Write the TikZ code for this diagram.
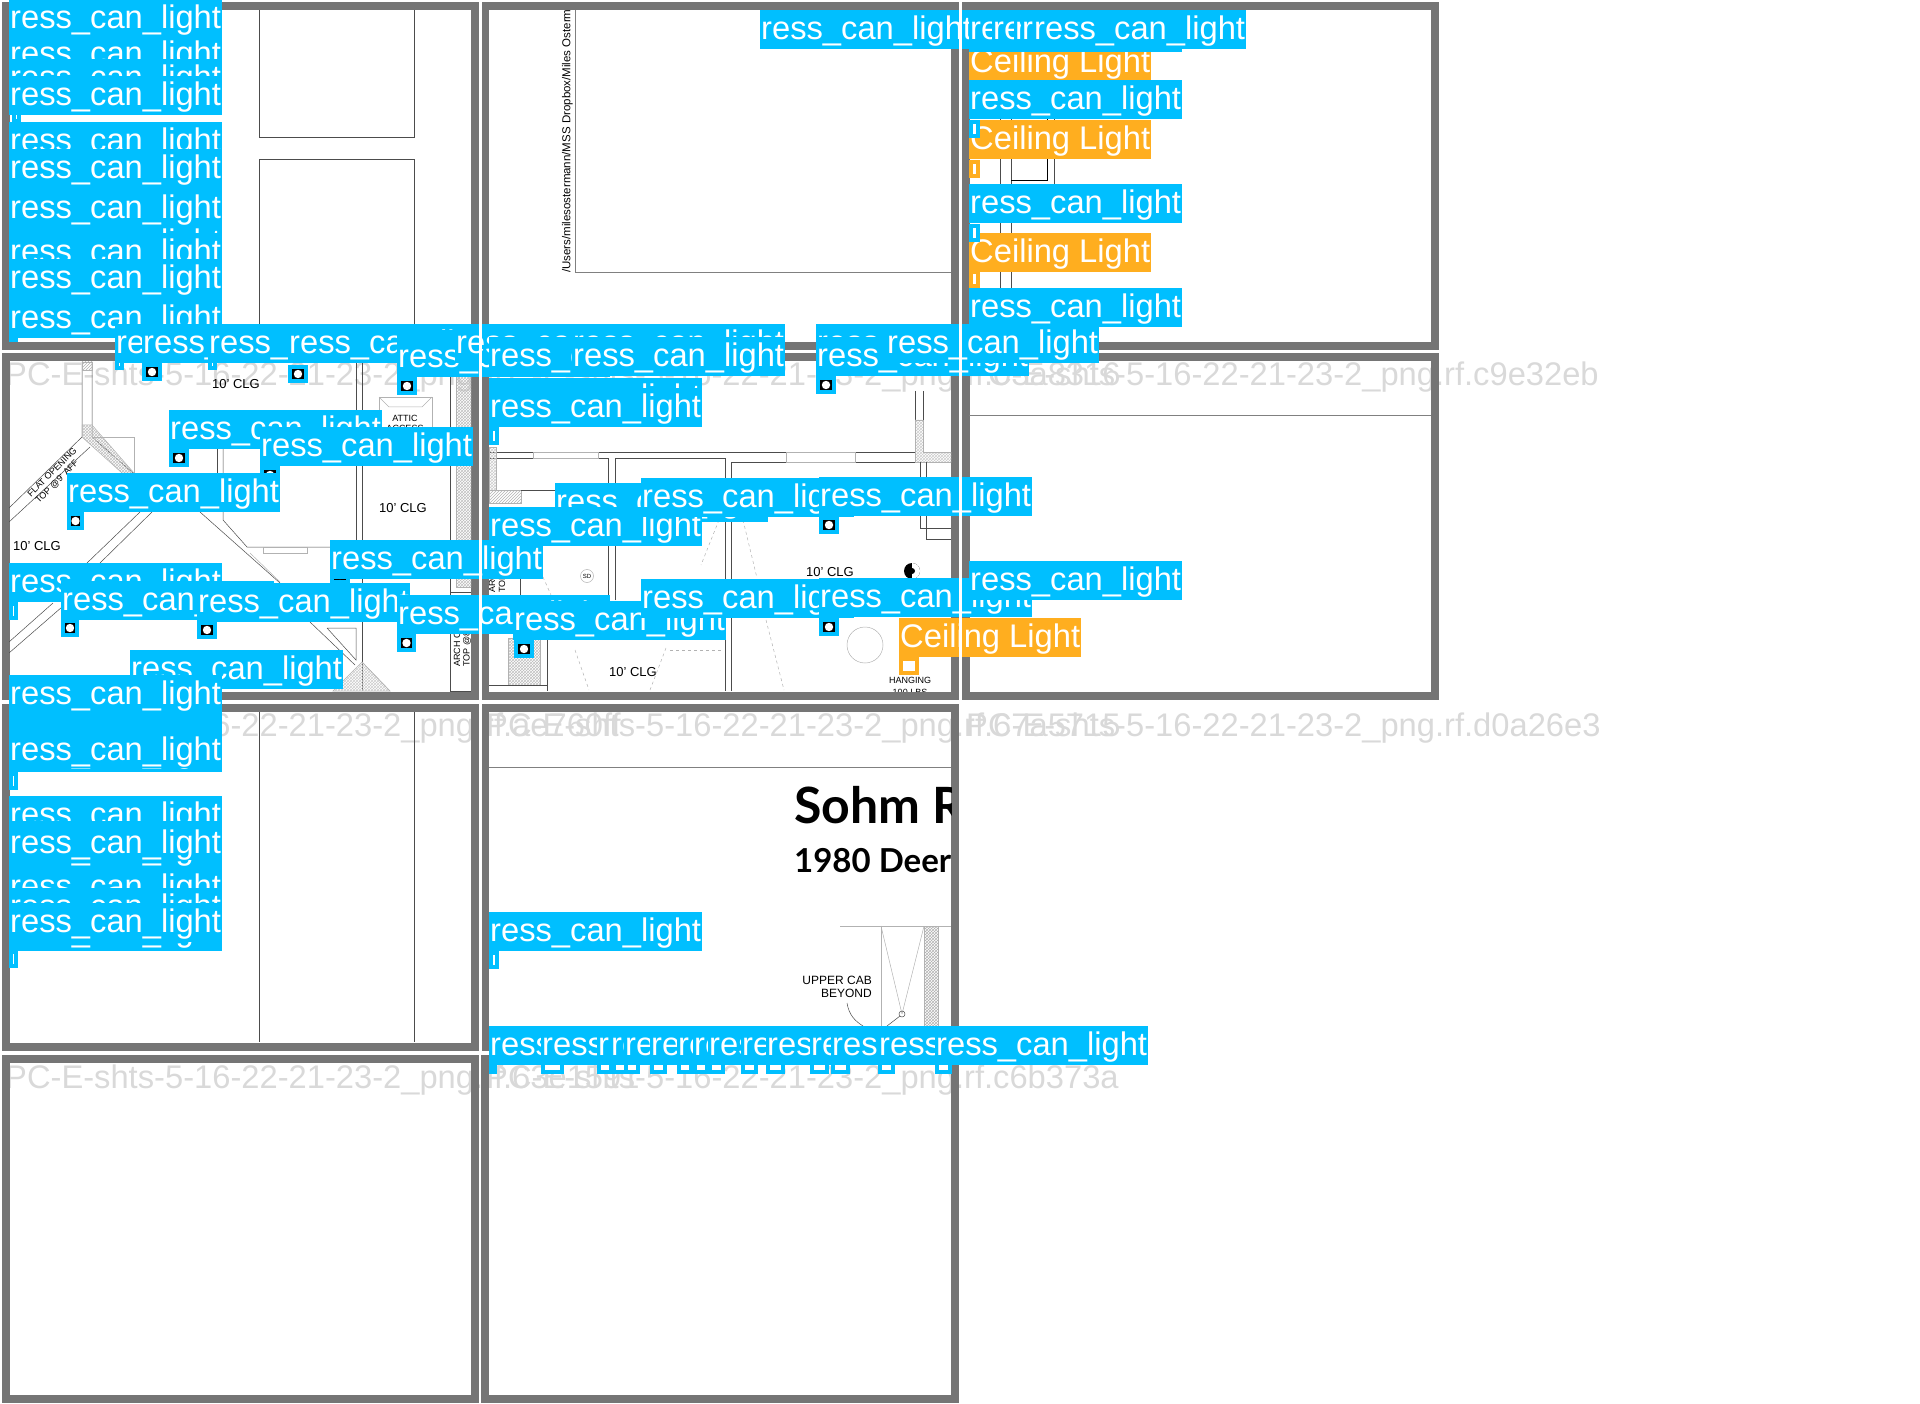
\documentclass[tikz,border=0pt]{standalone}
\usepackage{fontspec}
\usetikzlibrary{patterns}
\setmainfont{Liberation Sans}
\newfontfamily\titlefont{Lato}
\newcommand{\tagfont}{\fontsize{32.7}{36}\selectfont}
\definecolor{canblue}{HTML}{00BFFF}
\definecolor{ceilorange}{HTML}{FFAE1F}
\definecolor{framegray}{HTML}{757575}
\definecolor{markgray}{HTML}{D9D9D9}
\tikzset{
  cantag/.style={fill=canblue,text=white,font=\tagfont,inner xsep=1pt,inner ysep=0pt,text height=29pt,text depth=10pt,anchor=north west},
  ceiltag/.style={cantag,fill=ceilorange},
  canband/.style={fill=canblue,inner sep=0pt,minimum width=213pt,minimum height=20pt,anchor=north west},
  boxbase/.style={draw=canblue,line width=4pt,inner sep=0pt,minimum width=16pt,minimum height=14pt,anchor=north west},
  canbox/.style={boxbase,fill=black,path picture={\fill[white] (path picture bounding box.center) circle (4.2pt);}},
  stubbox/.style={boxbase,fill=white,minimum width=5pt},
  ceilbox/.style={boxbase,draw=ceilorange,fill=white,minimum width=7pt},
  hangbox/.style={boxbase,draw=ceilorange,fill=white},
  sheetmark/.style={text=markgray,font=\tagfont,inner sep=0pt,text height=24pt,text depth=7pt,anchor=north west},
  tileframe/.style={draw=framegray,line width=8pt},
  planline/.style={line width=.5pt,color=black!70},
  planthin/.style={line width=.5pt,color=gray!60},
  plantext/.style={font=\fontsize{13}{13}\selectfont,inner sep=0pt,text=black},
  smalltext/.style={font=\fontsize{9}{9}\selectfont,inner sep=0pt,text=black}
}
\begin{document}
\begin{tikzpicture}[x=1pt,y=-1pt]
\useasboundingbox (0,0) rectangle (1920,1404);
% sheet names
\node[sheetmark] (markba) at (5,361) {PC-E-shts-5-16-22-21-23-2\_png.rf.};
\node[sheetmark] (markbb) at (486,361) {PC-E-shts-5-16-22-21-23-2\_png.rf.03a8316};
\node[sheetmark] (markbc) at (966,361) {PC-E-shts-5-16-22-21-23-2\_png.rf.c9e32eb};
\node[sheetmark] (markca) at (5,712) {PC-E-shts-5-16-22-21-23-2\_png.rf.ae760ff};
\node[sheetmark] (markcb) at (486,712) {PC-E-shts-5-16-22-21-23-2\_png.rf.67a5715};
\node[sheetmark] (markcc) at (966,712) {PC-E-shts-5-16-22-21-23-2\_png.rf.d0a26e3};
\node[sheetmark] (markda) at (5,1064) {PC-E-shts-5-16-22-21-23-2\_png.rf.63e1591};
\node[sheetmark] (markdb) at (486,1064) {PC-E-shts-5-16-22-21-23-2\_png.rf.c6b373a};
% tile frames
\draw[tileframe] (5.5,6) rectangle (475,346);
\draw[tileframe] (485,6) rectangle (955,346);
\draw[tileframe] (966,6) rectangle (1435,346);
\draw[tileframe] (5.5,357.5) rectangle (475,695.5);
\draw[tileframe] (485,357.5) rectangle (955,695.5);
\draw[tileframe] (966,357.5) rectangle (1435,695.5);
\draw[tileframe] (5.5,708) rectangle (475,1047);
\draw[tileframe] (485,708) rectangle (955,1047);
\draw[tileframe] (5.5,1059) rectangle (475,1399);
\draw[tileframe] (485,1059) rectangle (955,1399);
% plan, top row
\draw[planline] (259,10) -- (259,137) -- (414,137) -- (414,10);
\draw[planline] (259,342) -- (259,159) -- (414,159) -- (414,342);
\begin{scope}
\clip (489,10) rectangle (951,342);
\draw[line width=1pt,color=gray] (575,10) -- (575,273) -- (951,273);
\node[font=\fontsize{11.5}{12}\selectfont,rotate=90,anchor=south west,inner sep=0pt] (pathtext) at (573,273) {/Users/milesostermann/MSS Dropbox/Miles Osterm};
\end{scope}
\draw[planline] (1000,119) -- (1000,288);
\draw[planline] (1011,119) -- (1011,288);
\draw[planline] (1054,119) -- (1054,184);
\draw[line width=.8pt] (1011,180) -- (1047,180) -- (1047,119);
% plan, middle row left
\begin{scope}
\clip (9,362) rectangle (471,691);
\draw[planline] (82,362) -- (82,437) -- (9,508);
\draw[planline] (92,362) -- (92,437) -- (133,473);
\draw[planline] (90,447) -- (9,522);
\filldraw[planthin,pattern=north east lines,pattern color=gray!60] (82,362) rectangle (92,370);
\filldraw[planthin,pattern=crosshatch,pattern color=gray!50] (82,425) -- (92,425) -- (134,473) -- (122,473) -- (82,437) -- cycle;
\draw[planthin] (92,437) -- (134,437) -- (134,473);
\draw[planline] (152,512) -- (100,563);
\draw[planline] (140,512) -- (87,563);
\draw[planline] (53,603) -- (9,642);
\draw[planline] (62,607) -- (9,653);
\draw[planline] (217,449) -- (217,512);
\draw[planline] (223,449) -- (223,520) -- (247,547) -- (330,547);
\draw[planline] (200,512) -- (280,583);
\draw[planthin] (250,553) -- (280,582);
\draw[planthin] (263,547) rectangle (307,553);
\draw[planline] (310,622) -- (355,665);
\draw[planline] (327,628) -- (356,628) -- (356,660) -- (327,628);
\draw[planline] (356,362) -- (356,540);
\draw[planline] (362,362) -- (362,691);
\draw[planline] (450,362) -- (450,691) -- (471,691);
\filldraw[planthin,pattern=crosshatch,pattern color=gray!50] (456,362) rectangle (471,587);
\draw[planline] (450,592) -- (471,592);
\draw[planthin] (450,600) -- (471,600);
\draw[planthin] (379,397) rectangle (432,427);
\draw[planthin] (379,397) -- (389,407) -- (422,407) -- (432,397);
\filldraw[planthin,pattern=crosshatch,pattern color=gray!40] (362,662) -- (390,691) -- (333,691) -- cycle;
\draw[planthin] (362,662) -- (390,691);
\node[plantext] (clga) at (236,384) {10' CLG};
\node[plantext] (clgb) at (403,508) {10' CLG};
\node[plantext] (clgc) at (37,546) {10' CLG};
\node[smalltext] (attic) at (405,418) {ATTIC};
\node[smalltext] (access) at (405,428) {ACCESS};
\node[smalltext,rotate=45] (flatopen) at (52,472) {FLAT OPENING};
\node[smalltext,rotate=45] (flattop) at (57,482) {TOP @9' AFF};
\node[smalltext,rotate=90,anchor=west] (archa) at (457,667) {ARCH O};
\node[smalltext,rotate=90,anchor=west] (archb) at (467,667) {TOP @8};
\end{scope}
% plan, middle row centre
\begin{scope}
\clip (489,362) rectangle (951,691);
\draw[planline] (489,452) -- (915,452);
\draw[planline] (489,458) -- (608,458) -- (608,600);
\draw[planline] (615,600) -- (615,458) -- (725,458) -- (725,691);
\draw[planline] (731,691) -- (731,462) -- (915,462);
\draw[planthin] (533,452) rectangle (598,458);
\draw[planthin] (786,452) rectangle (855,462);
\draw[planline] (915,391) -- (915,452);
\draw[planline] (923,391) -- (923,432);
\filldraw[planthin,pattern=crosshatch,pattern color=gray!40] (915,420) -- (923,420) -- (923,452) -- (951,452) -- (951,462) -- (915,462) -- cycle;
\filldraw[planthin,pattern=crosshatch,pattern color=gray!40] (489,447) rectangle (496,490);
\filldraw[planthin,pattern=north east lines,pattern color=gray!60] (489,490) rectangle (521,503);
\draw[planline] (521,490) -- (555,490);
\draw[planline] (920,462) -- (920,528) -- (951,528);
\draw[planline] (926,462) -- (926,539) -- (951,539);
\draw[planline] (520,578) -- (520,595) -- (489,595);
\draw[planline] (547,640) -- (547,691);
\filldraw[planthin,pattern=crosshatch,pattern color=gray!50] (508,638) rectangle (540,685);
\draw[planline] (489,685) -- (547,685);
\draw[planthin,dashed] (719,520) -- (701,565);
\draw[planthin,dashed] (743,520) -- (757,578);
\draw[planthin,dashed] (766,620) -- (784,690);
\draw[planthin,dashed] (666,648) -- (650,690);
\draw[planthin,dashed] (575,650) -- (589,690);
\draw[planthin,dashed] (670,650) -- (723,650);
\draw[planthin,dashed] (543,577) -- (551,595);
\draw[planthin] (865,645) circle (18pt);
\draw[planthin] (587,576) circle (6.5pt);
\node[font=\fontsize{6}{6}\selectfont,inner sep=0pt] (sdmark) at (587,576) {SD};
\fill (912,571) circle (8pt);
\fill[white] (912,563) arc (90:-90:8pt) -- cycle;
\fill (912,571) circle (3pt);
\node[plantext] (clgd) at (830,572) {10' CLG};
\node[plantext] (clge) at (633,672) {10' CLG};
\node[smalltext] (hanga) at (910,680) {HANGING};
\node[smalltext] (hangb) at (910,692) {100 LBS};
\node[smalltext,rotate=90,anchor=west] (archc) at (492,593) {ARC};
\node[smalltext,rotate=90,anchor=west] (archd) at (502,593) {TOF};
\end{scope}
% plan, lower tiles
\draw[line width=1pt,color=gray] (969,416) -- (1431,416);
\draw[planline] (259,712) -- (259,1042);
\draw[planline] (414,712) -- (414,1042);
\draw[line width=1pt,color=gray] (489,767) -- (951,767);
\begin{scope}
\clip (489,712) rectangle (951,1042);
\node[font=\titlefont\bfseries\fontsize{50}{50}\selectfont,inner sep=0pt,anchor=base west] (sohm) at (794,823) {Sohm R};
\node[font=\titlefont\bfseries\fontsize{33}{33}\selectfont,inner sep=0pt,anchor=base west] (deer) at (794,872) {1980 Deer};
\draw[planthin] (840,926) -- (951,926);
\draw[planthin] (881,926) -- (881,1030);
\filldraw[planthin,pattern=crosshatch,pattern color=gray!60] (924,926) rectangle (938,1030);
\draw[planthin] (881,926) -- (902,1014);
\draw[planthin] (924,926) -- (902,1014);
\draw[planline] (902,1014) circle (3pt);
\draw[planline] (900,1016) -- (887,1026);
\draw[planline] (847,1003) .. controls (849,1015) and (855,1021) .. (863,1026);
\node[font=\fontsize{12}{12}\selectfont,inner sep=0pt,anchor=east] (uppercab) at (872,980) {UPPER CAB};
\node[font=\fontsize{12}{12}\selectfont,inner sep=0pt,anchor=east] (beyond) at (872,993) {BEYOND};
\end{scope}
% top left stack
\node[cantag] (tla) at (9,-1) {ress\_can\_light};
\node[cantag] (tlb) at (9,35) {ress\_can\_light};
\node[cantag] (tlc) at (9,59) {ress\_can\_light};
\node[stubbox] (blc) at (12,105) {};
\node[cantag] (tld) at (9,76) {ress\_can\_light};
\node[cantag] (tle) at (9,122) {ress\_can\_light};
\node[cantag,text depth=11pt] (tlf) at (9,149) {ress\_can\_light};
\node[cantag] (tlh) at (9,223) {ress\_can\_light};
\node[cantag] (tlg) at (9,189) {ress\_can\_light};
\node[cantag] (tli) at (9,233) {ress\_can\_light};
\node[cantag,text depth=11pt] (tlj) at (9,259) {ress\_can\_light};
\node[stubbox,minimum width=5pt] (blk) at (9,324) {};
\node[cantag] (tlk) at (9,299) {ress\_can\_light};
% top middle and right
\node[cantag] (tma) at (760,10) {ress\_can\_light};
\node[ceiltag] (cra) at (969,43) {Ceiling Light};
\node[cantag] (trb) at (969,13) {ress\_can\_light};
\node[cantag] (trj) at (969,10) {ress\_can\_light};
\node[cantag] (trc) at (992,10) {ress\_can\_light};
\node[cantag] (trd) at (1014,10) {ress\_can\_light};
\node[cantag] (tre) at (1021,10) {ress\_can\_light};
\node[cantag] (trf) at (1033,10) {ress\_can\_light};
\node[cantag] (trg) at (969,80) {ress\_can\_light};
\node[ceiltag] (crb) at (969,120) {Ceiling Light};
\node[stubbox,minimum width=7pt] (brg) at (969,120) {};
\node[ceilbox] (brb) at (969,160) {};
\node[cantag] (trh) at (969,184) {ress\_can\_light};
\node[ceiltag] (crc) at (969,233) {Ceiling Light};
\node[stubbox,minimum width=7pt] (brh) at (969,224) {};
\node[ceilbox] (brc) at (969,270) {};
\node[cantag] (tri) at (969,288) {ress\_can\_light};
% upper row of the middle tiles
\node[stubbox] (bma) at (115,352) {};
\node[cantag] (tmb) at (115,324) {ress\_can\_light};
\node[canbox] (bmc) at (142,363) {};
\node[cantag] (tmc) at (142,324) {ress\_can\_light};
\node[stubbox] (bmd) at (208,352) {};
\node[cantag] (tmd) at (208,324) {ress\_can\_light};
\node[canbox] (bme) at (288,365) {};
\node[cantag] (tme) at (288,324) {ress\_can\_light};
\node[cantag] (tmn) at (397,330) {ress\_can\_light};
\node[canbox] (bmf) at (397,377) {};
\node[cantag] (tmf) at (397,338) {ress\_can\_light};
\node[cantag] (tmg) at (455,324) {ress\_can\_light};
\node[cantag] (tmh) at (572,324) {ress\_can\_light};
\node[cantag] (tmi) at (489,337) {ress\_can\_light};
\node[cantag] (tmj) at (572,337) {ress\_can\_light};
\node[cantag] (tmk) at (816,324) {ress\_can\_light};
\node[canbox] (bml) at (816,376) {};
\node[cantag] (tml) at (816,337) {ress\_can\_light};
\node[cantag] (tmm) at (886,324) {ress\_can\_light};
% middle left
\node[canbox] (bna) at (169,449) {};
\node[cantag] (tna) at (169,410) {ress\_can\_light};
\node[canbox] (bnb) at (260,466) {};
\node[cantag] (tnb) at (260,427) {ress\_can\_light};
\node[canbox,minimum width=13pt] (bnc) at (67,512) {};
\node[cantag] (tnc) at (67,473) {ress\_can\_light};
\node[canbox] (bnd) at (330,566) {};
\node[cantag] (tnd) at (330,540) {ress\_can\_light};
\node[stubbox] (bne) at (9,602) {};
\node[cantag] (tne) at (9,563) {ress\_can\_light};
\node[canbox,minimum width=14pt] (bnf) at (61,619) {};
\node[cantag] (tnf) at (61,581) {ress\_can\_light};
\node[canbox] (bng) at (197,621) {};
\node[cantag] (tng) at (197,583) {ress\_can\_light};
\node[canbox,minimum width=15pt] (bnh) at (397,634) {};
\node[cantag] (tnh) at (397,595) {ress\_can\_light};
\node[cantag] (tni) at (130,650) {ress\_can\_light};
\node[canband] (tpa) at (9,712) {};
\node[cantag] (tnj) at (9,675) {ress\_can\_light};
% middle centre and right
\node[cantag] (toa) at (489,378) {ress\_can\_light};
\node[stubbox,minimum width=6pt] (bob) at (489,427) {};
\node[cantag] (tob) at (489,388) {ress\_can\_light};
\node[cantag] (toc) at (555,483) {ress\_can\_light};
\node[cantag] (tod) at (489,507) {ress\_can\_light};
\node[cantag] (toe) at (641,478) {ress\_can\_light};
\node[canbox] (bof) at (819,516) {};
\node[cantag] (tof) at (819,477) {ress\_can\_light};
\node[canbox] (bog) at (514,640) {};
\node[cantag] (tog) at (513,601) {ress\_can\_light};
\node[cantag] (toh) at (641,579) {ress\_can\_light};
\node[canbox] (boi) at (819,618) {};
\node[cantag] (toi) at (819,578) {ress\_can\_light};
\node[cantag] (toj) at (969,561) {ress\_can\_light};
\node[hangbox] (bok) at (899,657) {};
\node[ceiltag] (cok) at (899,618) {Ceiling Light};
% lower left stack
\node[cantag] (tpb) at (9,733) {ress\_can\_light};
\node[cantag,text height=31.5pt,text depth=7.5pt] (tpc) at (9,729) {ress\_can\_light};
\node[stubbox,minimum width=5pt] (bpc) at (9,772) {};
\node[cantag] (tpd) at (9,796) {ress\_can\_light};
\node[cantag] (tpk) at (9,830) {ress\_can\_light};
\node[cantag] (tpe) at (9,868) {ress\_can\_light};
\node[cantag,text height=32pt,text depth=7pt] (tpf) at (9,821) {ress\_can\_light};
\node[cantag] (tpg) at (9,888) {ress\_can\_light};
\node[cantag] (tph) at (9,912) {ress\_can\_light};
\node[stubbox,minimum width=5pt] (bpi) at (9,950) {};
\node[cantag] (tpi) at (9,903) {ress\_can\_light};
% lower centre strip
\node[stubbox,minimum width=6pt] (bqa) at (489,951) {};
\node[cantag] (tqa) at (489,912) {ress\_can\_light};
\node[stubbox,minimum width=4pt] (bra) at (489,1056) {};
\node[cantag] (sa) at (489,1026) {ress\_can\_light};
\node[stubbox,minimum width=19pt] (brc) at (541,1056) {};
\node[cantag] (sb) at (541,1026) {ress\_can\_light};
\node[stubbox,minimum width=12pt] (brd) at (597,1056) {};
\node[cantag] (sc) at (597,1026) {ress\_can\_light};
\node[stubbox,minimum width=12pt] (bre) at (612,1056) {};
\node[cantag] (sd) at (610,1026) {ress\_can\_light};
\node[stubbox,minimum width=12pt] (brf) at (624,1056) {};
\node[cantag] (se) at (624,1026) {ress\_can\_light};
\node[stubbox,minimum width=13pt] (brt) at (650,1056) {};
\node[cantag] (sf) at (650,1026) {ress\_can\_light};
\node[stubbox,minimum width=12pt] (bru) at (677,1056) {};
\node[cantag] (sg) at (677,1026) {ress\_can\_light};
\node[stubbox,minimum width=12pt] (bri) at (693,1056) {};
\node[cantag] (sh) at (693,1026) {ress\_can\_light};
\node[stubbox,minimum width=13pt] (brj) at (708,1056) {};
\node[cantag] (si) at (708,1026) {ress\_can\_light};
\node[stubbox,minimum width=13pt] (brk) at (741,1056) {};
\node[cantag] (sj) at (741,1026) {ress\_can\_light};
\node[stubbox,minimum width=15pt] (brl) at (766,1056) {};
\node[cantag] (sk) at (766,1026) {ress\_can\_light};
\node[stubbox,minimum width=15pt] (brm) at (810,1056) {};
\node[cantag] (sl) at (810,1026) {ress\_can\_light};
\node[stubbox,minimum width=15pt] (brn) at (831,1056) {};
\node[cantag] (sm) at (831,1026) {ress\_can\_light};
\node[stubbox,minimum width=13pt] (bro) at (878,1056) {};
\node[cantag] (sn) at (878,1026) {ress\_can\_light};
\node[stubbox,minimum width=13pt] (brp) at (935,1056) {};
\node[cantag] (so) at (935,1026) {ress\_can\_light};
% white seams over the tags
\draw[white,line width=2.2pt] (480.5,0) -- (480.5,1053);
\draw[white,line width=2.2pt] (960.5,0) -- (960.5,704);
\end{tikzpicture}
\end{document}
